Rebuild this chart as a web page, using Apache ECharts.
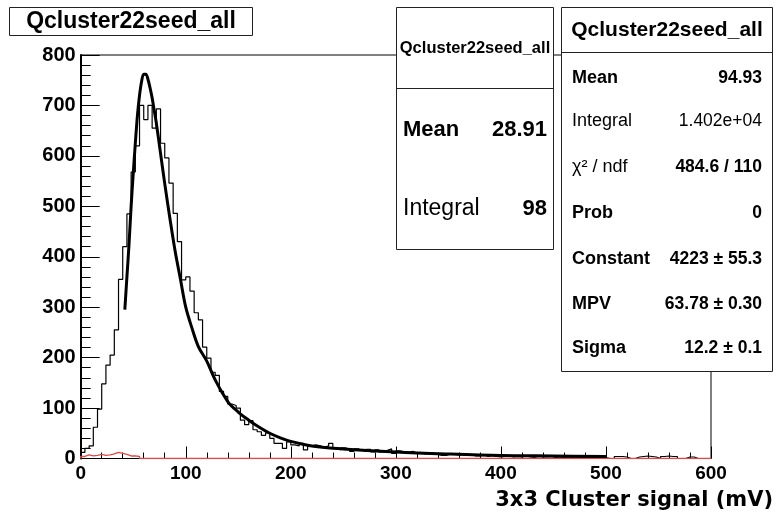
<!DOCTYPE html>
<html>
<head>
<meta charset="utf-8">
<script src="https://cdn.jsdelivr.net/npm/echarts@6/dist/echarts.min.js"></script>
<style>
html, body { margin: 0; padding: 0; background: #fff; }
#main { width: 777px; height: 521px; }
</style>
</head>
<body>
<div id="main"></div>
<script>
// histogram: 150 bins of 4 mV from 0 to 600
var binWidth = 4;
var counts = [
  12, 20, 25, 62, 98, 148, 185, 205, 255, 355,
  420, 485, 568, 620, 700, 672, 700, 655, 693, 625,
  596, 546, 486, 430, 354, 360, 332, 289, 275, 221,
  199, 171, 165, 133, 123, 108, 105, 100, 76, 67,
  75, 57, 53, 46, 51, 40, 30, 30, 20, 33,
  27, 25, 30, 17, 25, 27, 25, 22, 25, 30,
  20, 17, 21, 18, 14, 19, 16, 14, 18, 13,
  17, 13, 16, 19, 10, 15, 13, 12, 14, 11,
  12, 9, 10, 11, 8, 6, 6, 9, 8, 7,
  7, 6, 8, 5, 5, 7, 4, 6, 4, 3,
  4, 5, 3, 4, 3, 5, 3, 2, 4, 3,
  3, 4, 2, 3, 2, 3, 2, 3, 2, 2,
  3, 2, 2, 3, 2, 0, 0, 4, 4, 3,
  0, 0, 3, 4, 5, 4, 3, 0, 4, 5,
  4, 4, 0, 0, 3, 3, 0, 0, 0, 0
];
// second (red) histogram, same binning
var countsRed = [4, 7, 5, 6, 8, 6, 7, 9, 12, 10, 8, 5, 5, 4];

// landau fit curve
var fitX = [42, 44, 46, 48, 50, 52, 54, 56, 58, 60, 62, 64, 66, 68, 70, 72, 76, 80, 85, 90,
  95, 100, 106, 112, 120, 128, 140, 150, 160, 170, 180, 190, 200, 220, 250, 300, 350, 400, 450, 500];
var fitY = [295, 360, 425, 500, 565, 625, 680, 720, 748, 762, 762, 752, 735, 715, 690, 665, 605, 545, 475, 410,
  355, 300, 258, 222, 193, 156, 113, 92, 76, 62, 50, 41, 34, 25, 19, 13, 9, 6, 5, 4];

var xTicks = [0, 100, 200, 300, 400, 500, 600];
var yTicks = [0, 100, 200, 300, 400, 500, 600, 700, 800];

var statsLeft = [['Mean', '28.91'], ['Integral', '98']];
var statsRight = [
  ['Mean', '94.93'], ['Integral', '1.402e+04'], ['χ² / ndf', '484.6 / 110'], ['Prob', '0'],
  ['Constant', '4223 ± 55.3'], ['MPV', '63.78 ± 0.30'], ['Sigma', '12.2 ± 0.1']
];

function histLine(arr, nBins) {
  var out = [[0, 0]];
  for (var i = 0; i < nBins; i++) {
    out.push([i * binWidth, arr[i] || 0]);
  }
  out.push([nBins * binWidth, arr[nBins - 1] || 0]);
  out.push([nBins * binWidth, 0]);
  return out;
}

var fitData = [];
for (var i = 0; i < fitX.length; i++) fitData.push([fitX[i], fitY[i]]);

var myChart = echarts.init(document.getElementById('main'), null, { renderer: 'canvas' });

var lblFont = 'Liberation Sans, Arial, sans-serif';
var g = [];
function rect(x, y, w, h) {
  g.push({ type: 'rect', z: 100, shape: { x: x, y: y, width: w, height: h },
    style: { fill: '#fff', stroke: '#222', lineWidth: 1 } });
}
function hline(x1, x2, y) {
  g.push({ type: 'line', z: 101, shape: { x1: x1, y1: y, x2: x2, y2: y },
    style: { stroke: '#222', lineWidth: 1 } });
}
function txt(s, x, y, size, weight, align) {
  g.push({ type: 'text', z: 102, style: { text: s, x: x, y: y, fill: '#000',
    font: weight + ' ' + size + 'px ' + lblFont, textAlign: align, textVerticalAlign: 'middle' } });
}

// title box
rect(9.5, 7.5, 243, 28);
txt('Qcluster22seed_all', 131, 22, 23, 'bold', 'center');

// left stats box
rect(396.5, 7.5, 157, 242);
hline(396.5, 553.5, 88.5);
txt('Qcluster22seed_all', 475, 48, 16.5, 'bold', 'center');
txt(statsLeft[0][0], 403, 130, 22, 'bold', 'left');
txt(statsLeft[0][1], 547, 130, 22, 'bold', 'right');
txt(statsLeft[1][0], 403, 209, 23, 'normal', 'left');
txt(statsLeft[1][1], 547, 209, 22, 'bold', 'right');

// right stats box
rect(561.5, 7.5, 211, 364);
hline(561.5, 772.5, 52.5);
txt('Qcluster22seed_all', 667, 30, 21, 'bold', 'center');
var rowY = [78, 121, 167, 213, 259, 304, 348];
for (var k = 0; k < statsRight.length; k++) {
  var light = statsRight[k][0] === 'Integral' || statsRight[k][0].charAt(0) === 'χ';
  txt(statsRight[k][0], 572, rowY[k], 18, light ? 'normal' : 'bold', 'left');
  txt(statsRight[k][1], 762, rowY[k], 17.5, k === 1 ? 'normal' : 'bold', 'right');
}

// axis title
g.push({ type: 'text', z: 102, style: { text: '3x3 Cluster signal (mV)', x: 773, y: 501, fill: '#000',
  font: 'bold 21px DejaVu Sans, sans-serif', textAlign: 'right', textVerticalAlign: 'middle' } });

var option = {
  animation: false,
  backgroundColor: '#fff',
  grid: {
    left: 80.7, top: 55, right: 66, bottom: 62.5,
    show: true, borderColor: '#000', borderWidth: 1,
    containLabel: false, outerBoundsMode: 'none'
  },
  xAxis: {
    type: 'value', min: xTicks[0], max: xTicks[xTicks.length - 1], interval: 100,
    axisLine: { lineStyle: { color: '#000', width: 1 } },
    axisTick: { inside: true, length: 12, lineStyle: { color: '#000' } },
    minorTick: { show: true, splitNumber: 5, length: 6, lineStyle: { color: '#000' } },
    splitLine: { show: false },
    axisLabel: { color: '#000', fontSize: 19, fontWeight: 'bold', fontFamily: lblFont, margin: 6 }
  },
  yAxis: {
    type: 'value', min: yTicks[0], max: yTicks[yTicks.length - 1], interval: 100,
    axisLine: { show: true, lineStyle: { color: '#000', width: 2 } },
    axisTick: { inside: true, length: 19, lineStyle: { color: '#000' } },
    minorTick: { show: true, splitNumber: 5, length: 10, lineStyle: { color: '#000' } },
    splitLine: { show: false },
    axisLabel: { color: '#000', fontSize: 20, fontWeight: 'bold', fontFamily: lblFont, margin: 5 }
  },
  graphic: g,
  series: [
    {
      name: 'hist', type: 'line', step: 'end', symbol: 'none',
      data: histLine(counts, counts.length),
      lineStyle: { color: '#000', width: 1.2 }, z: 2
    },
    {
      name: 'hist2', type: 'line', step: 'end', symbol: 'none',
      data: histLine(countsRed.concat(new Array(150 - countsRed.length).fill(0)), 150),
      lineStyle: { color: '#e04848', width: 1.3 }, z: 3
    },
    {
      name: 'fit', type: 'line', symbol: 'none', smooth: 0.35,
      data: fitData,
      lineStyle: { color: '#000', width: 3 }, z: 4
    }
  ]
};

myChart.setOption(option);
</script>
</body>
</html>
